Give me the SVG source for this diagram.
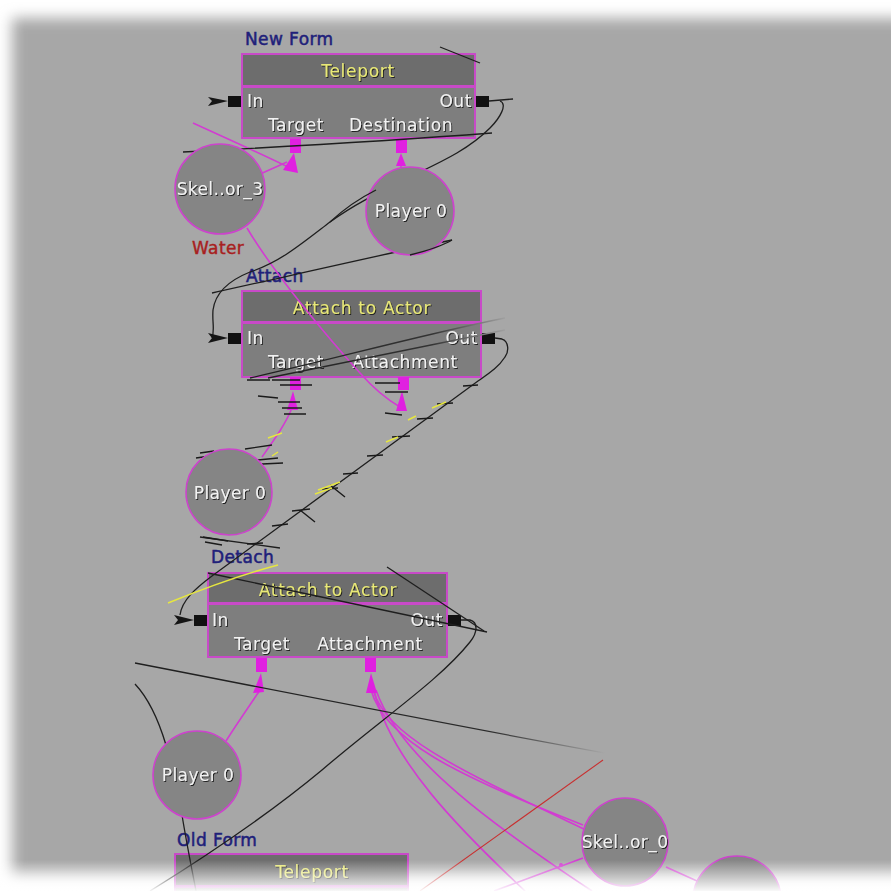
<svg xmlns="http://www.w3.org/2000/svg" width="891" height="891" viewBox="0 0 891 891">
  <defs>
    <filter id="soft" x="-5%" y="-5%" width="110%" height="110%">
      <feGaussianBlur stdDeviation="7"/>
    </filter>
    <filter id="txtShadow" x="-10%" y="-30%" width="130%" height="170%">
      <feDropShadow dx="1" dy="1" stdDeviation="0.5" flood-color="#1a1a1a" flood-opacity="0.95"/>
    </filter>
    <linearGradient id="bottomFade" x1="0" y1="0" x2="0" y2="1">
      <stop offset="0" stop-color="#ffffff" stop-opacity="0"/>
      <stop offset="1" stop-color="#ffffff" stop-opacity="0.95"/>
    </linearGradient>
    <linearGradient id="fadeRight" gradientUnits="userSpaceOnUse" x1="135" y1="0" x2="605" y2="0">
      <stop offset="0" stop-color="#1e1e1e"/>
      <stop offset="0.75" stop-color="#2a2a2a"/>
      <stop offset="1" stop-color="#a7a7a7"/>
    </linearGradient>
    <linearGradient id="fadeRight2" gradientUnits="userSpaceOnUse" x1="250" y1="0" x2="510" y2="0">
      <stop offset="0" stop-color="#1e1e1e"/>
      <stop offset="0.7" stop-color="#333333"/>
      <stop offset="1" stop-color="#a7a7a7"/>
    </linearGradient>
    <style>
      .title { fill: #6d6d6d; stroke: #c84ac8; stroke-width: 2; }
      .body { fill: #7e7e7e; stroke: #c84ac8; stroke-width: 2; }
      .var { fill: #858585; stroke: #cc44cc; stroke-width: 1.6; }
      .pinB { fill: #111111; }
      .pinV { fill: #e020e0; }
      .arrM { fill: #e020e0; }
      .arrB { fill: #151515; }
      .tTitle { font-family: "DejaVu Sans", sans-serif; font-size: 17px; letter-spacing: 0.7px; fill: #e8e878; text-anchor: middle; filter: url(#txtShadow); }
      .tPort { font-family: "DejaVu Sans", sans-serif; font-size: 17px; letter-spacing: 0.6px; fill: #f2f2f2; filter: url(#txtShadow); }
      .tVar { font-family: "DejaVu Sans", sans-serif; font-size: 17px; letter-spacing: 0.4px; fill: #f2f2f2; text-anchor: middle; filter: url(#txtShadow); }
      .tCmt { font-family: "DejaVu Sans", sans-serif; font-size: 17px; letter-spacing: 0.4px; fill: #20207a; stroke: #20207a; stroke-width: 0.5; }
      .tRed { font-family: "DejaVu Sans", sans-serif; font-size: 17px; letter-spacing: 0.4px; fill: #a82020; stroke: #a82020; stroke-width: 0.4; }
      .lnB { fill: none; stroke: #1e1e1e; stroke-width: 1.3; }
      .lnM { fill: none; stroke: #d23cd2; stroke-width: 1.6; }
      .lnY { fill: none; stroke: #e6e640; stroke-width: 1.5; }
      .hatch { fill: none; stroke: #1a1a1a; stroke-width: 1.4; }
    </style>
  </defs>

  <!-- canvas -->
  <rect x="0" y="0" width="891" height="891" fill="#ffffff"/>
  <rect x="12" y="18" width="920" height="858" fill="#a7a7a7" filter="url(#soft)"/>

  <!-- comment labels -->
  <g id="comments">
    <text class="tCmt" x="245" y="45">New Form</text>
    <text class="tRed" x="192" y="254">Water</text>
    <text class="tCmt" x="246" y="282">Attach</text>
    <text class="tCmt" x="211" y="563">Detach</text>
    <text class="tCmt" x="177" y="846">Old Form</text>
  </g>

  <!-- sequence node: Teleport (new form) -->
  <g id="node-teleport-new">
    <rect class="title" x="242" y="54" width="233" height="32"/>
    <rect class="body" x="242" y="87" width="233" height="51"/>
    <text class="tTitle" x="358" y="77">Teleport</text>
    <rect class="pinB" x="228" y="96" width="13" height="11"/>
    <rect class="pinB" x="476" y="96" width="13" height="11"/>
    <text class="tPort" x="247" y="107">In</text>
    <text class="tPort" x="472" y="107" text-anchor="end">Out</text>
    <text class="tPort" x="296" y="131" text-anchor="middle">Target</text>
    <text class="tPort" x="401" y="131" text-anchor="middle">Destination</text>
    <rect class="pinV" x="290" y="139" width="11" height="14"/>
    <rect class="pinV" x="396" y="139" width="11" height="14"/>
  </g>

  <!-- sequence node: Attach to Actor (attach) -->
  <g id="node-attach">
    <rect class="title" x="242" y="291" width="239" height="31"/>
    <rect class="body" x="242" y="323" width="239" height="54"/>
    <text class="tTitle" x="362" y="314">Attach to Actor</text>
    <rect class="pinB" x="228" y="333" width="13" height="11"/>
    <rect class="pinB" x="482" y="333" width="13" height="11"/>
    <text class="tPort" x="247" y="344">In</text>
    <text class="tPort" x="478" y="344" text-anchor="end">Out</text>
    <text class="tPort" x="296" y="368" text-anchor="middle">Target</text>
    <text class="tPort" x="405" y="368" text-anchor="middle">Attachment</text>
    <rect class="pinV" x="290" y="377" width="11" height="13"/>
    <rect class="pinV" x="398" y="377" width="11" height="13"/>
  </g>

  <!-- sequence node: Attach to Actor (detach) -->
  <g id="node-detach">
    <rect class="title" x="208" y="573" width="239" height="30"/>
    <rect class="body" x="208" y="604" width="239" height="53"/>
    <text class="tTitle" x="328" y="596">Attach to Actor</text>
    <rect class="pinB" x="194" y="615" width="13" height="11"/>
    <rect class="pinB" x="448" y="615" width="13" height="11"/>
    <text class="tPort" x="212" y="626">In</text>
    <text class="tPort" x="443" y="626" text-anchor="end">Out</text>
    <text class="tPort" x="262" y="650" text-anchor="middle">Target</text>
    <text class="tPort" x="370" y="650" text-anchor="middle">Attachment</text>
    <rect class="pinV" x="256" y="658" width="11" height="14"/>
    <rect class="pinV" x="365" y="658" width="11" height="14"/>
  </g>

  <!-- sequence node: Teleport (old form) -->
  <g id="node-teleport-old">
    <rect class="title" x="175" y="854" width="233" height="32"/>
    <rect class="body" x="175" y="887" width="233" height="40"/>
    <text class="tTitle" x="312" y="878">Teleport</text>
  </g>

  <!-- connectors -->
  <g id="connectors">
    <!-- variable links (magenta) -->
    <path class="lnM" d="M 193 123 C 230 140 262 154 290 168"/>
    <path class="lnM" d="M 258 175 L 287 162"/>
    <path class="lnM" d="M 401 168 L 401 158"/>
    <path class="lnM" d="M 247 228 C 275 275 330 340 360 373 C 375 390 388 400 400 407"/>
    <path class="lnM" d="M 262 457 C 274 440 285 425 292 408"/>
    <path class="lnM" d="M 226 741 C 238 722 250 705 260 690"/>
    <path class="lnM" d="M 371 690 C 385 740 455 775 583 825"/>
    <path class="lnM" d="M 373 690 C 388 738 460 770 586 830"/>
    <path class="lnM" d="M 374 690 C 390 760 460 830 525 891"/>
    <path class="lnM" d="M 376 690 C 400 760 500 830 592 891"/>
    <path class="lnM" d="M 583 858 L 494 891"/>
    <path class="lnM" d="M 666 867 L 697 881"/>
    <circle cx="561" cy="865" r="2" fill="#d23cd2"/>

    <!-- variable arrowheads -->
    <polygon class="arrM" points="294,153 283,170 298,173"/>
    <polygon class="arrM" points="401,153 396,166 406,166"/>
    <polygon class="arrM" points="293,391 287,410 298,410"/>
    <polygon class="arrM" points="402,391 396,411 407,411"/>
    <polygon class="arrM" points="261,673 253,693 264,692"/>
    <polygon class="arrM" points="371,673 366,693 377,693"/>

    <!-- red link -->
    <path d="M 603 760 L 420 891" fill="none" stroke="#c83030" stroke-width="1.1"/>

    <!-- output links (black) -->
    <path class="lnB" d="M 489 101 L 513 99"/>
    <path class="lnB" d="M 500 101 C 508 104 500 118 490 128 C 470 148 445 160 420 172 C 395 185 360 200 330 222 C 300 245 280 262 250 272 C 225 282 215 295 213 310 C 212 322 215 330 212 338"/>
    <path class="lnB" d="M 212 293 C 280 278 380 255 452 240"/>
    <path class="lnB" d="M 183 152 C 300 146 400 140 492 133"/>
    <path class="lnB" d="M 440 47 L 480 63"/>
    <path d="M 250 378 C 330 360 420 335 505 318" fill="none" stroke="url(#fadeRight2)" stroke-width="1.3"/>
    <path d="M 268 378 C 350 362 430 345 505 330" fill="none" stroke="url(#fadeRight2)" stroke-width="1.3"/>
    <path class="lnB" d="M 495 338 L 502 339 C 509 341 509 352 505 357 C 498 368 488 374 478 381 L 212 576 C 196 588 182 600 180 615"/>
    <path class="lnB" d="M 200 537 L 280 548"/>
    <path class="lnB" d="M 208 573 L 487 632"/>
    <path class="lnB" d="M 387 567 L 484 631"/>
    <path class="lnB" d="M 461 620 L 470 620 C 478 622 478 632 470 642 C 440 680 380 720 322 770 C 262 820 200 860 150 891"/>
    <path d="M 135 663 C 300 695 450 725 605 753" fill="none" stroke="url(#fadeRight)" stroke-width="1.3"/>
    <path class="lnB" d="M 135 684 C 150 700 160 725 166 745"/>
    <path class="lnB" d="M 182 815 C 186 840 192 870 196 891"/>

    <!-- input arrowheads -->
    <polygon class="arrB" points="228,101 208,97 212,101 208,106"/>
    <polygon class="arrB" points="228,338 208,333 212,338 208,343"/>
    <polygon class="arrB" points="194,620 174,615 178,620 174,625"/>

    <!-- smeared redraw ticks -->
    <g class="hatch">
      <path d="M 272 380 L 300 380 M 280 385 L 312 385 M 278 402 L 300 402 M 282 408 L 302 408 M 284 414 L 306 414"/>
      <path d="M 375 383 L 400 383 M 385 392 L 408 392 M 385 413 L 402 415"/>
      <path d="M 258 396 L 278 398 M 247 380 L 270 380"/>
      <path d="M 200 453 L 214 451 M 196 458 L 210 456 M 245 449 L 272 445 M 262 464 L 283 463 M 258 460 L 278 458"/>
      <path d="M 463 386 L 478 385 M 437 404 L 453 403 M 417 419 L 433 418 M 392 437 L 410 436 M 367 456 L 383 455 M 343 474 L 358 473"/>
      <path d="M 322 489 L 338 488 M 292 511 L 310 509 M 272 526 L 288 524 M 247 544 L 263 543 M 300 510 L 315 522 M 330 485 L 345 497"/>
      <path d="M 203 537 L 228 541 M 205 542 L 222 545"/>
    </g>

    <!-- yellow highlight traces -->
    <path class="lnY" d="M 168 603 C 200 590 240 575 278 565"/>
    <path class="lnY" d="M 432 408 L 446 402 M 386 442 L 398 437 M 408 420 L 416 416 M 315 494 L 332 488 M 268 438 L 282 433 M 272 456 L 278 452 M 196 476 L 200 474 M 318 490 L 340 482"/>
  </g>

  <!-- variable nodes -->
  <g id="var-skel-3">
    <circle class="var" cx="220" cy="189" r="45"/>
    <text class="tVar" x="220" y="195">Skel..or_3</text>
  </g>
  <g id="var-player0-a">
    <circle class="var" cx="410" cy="211" r="44"/>
    <text class="tVar" x="411" y="217">Player 0</text>
  </g>
  <g id="var-player0-b">
    <circle class="var" cx="229" cy="492" r="43"/>
    <text class="tVar" x="230" y="499">Player 0</text>
  </g>
  <g id="var-player0-c">
    <circle class="var" cx="197" cy="775" r="44"/>
    <text class="tVar" x="198" y="781">Player 0</text>
  </g>
  <g id="var-skel-0">
    <ellipse class="var" cx="625" cy="842" rx="43" ry="44"/>
    <text class="tVar" x="625" y="848">Skel..or_0</text>
  </g>
  <g id="var-unnamed">
    <circle class="var" cx="737" cy="900" r="44"/>
  </g>

  <!-- lines drawn over the variable nodes -->
  <g id="connectors-over">
    <path class="lnB" d="M 376 190 C 360 198 345 208 330 222"/>
    <path class="lnB" d="M 410 255 C 430 250 442 246 452 240"/>
  </g>

  <!-- soft edge of the canvas -->
  <rect x="0" y="860" width="891" height="31" fill="url(#bottomFade)"/>
</svg>
